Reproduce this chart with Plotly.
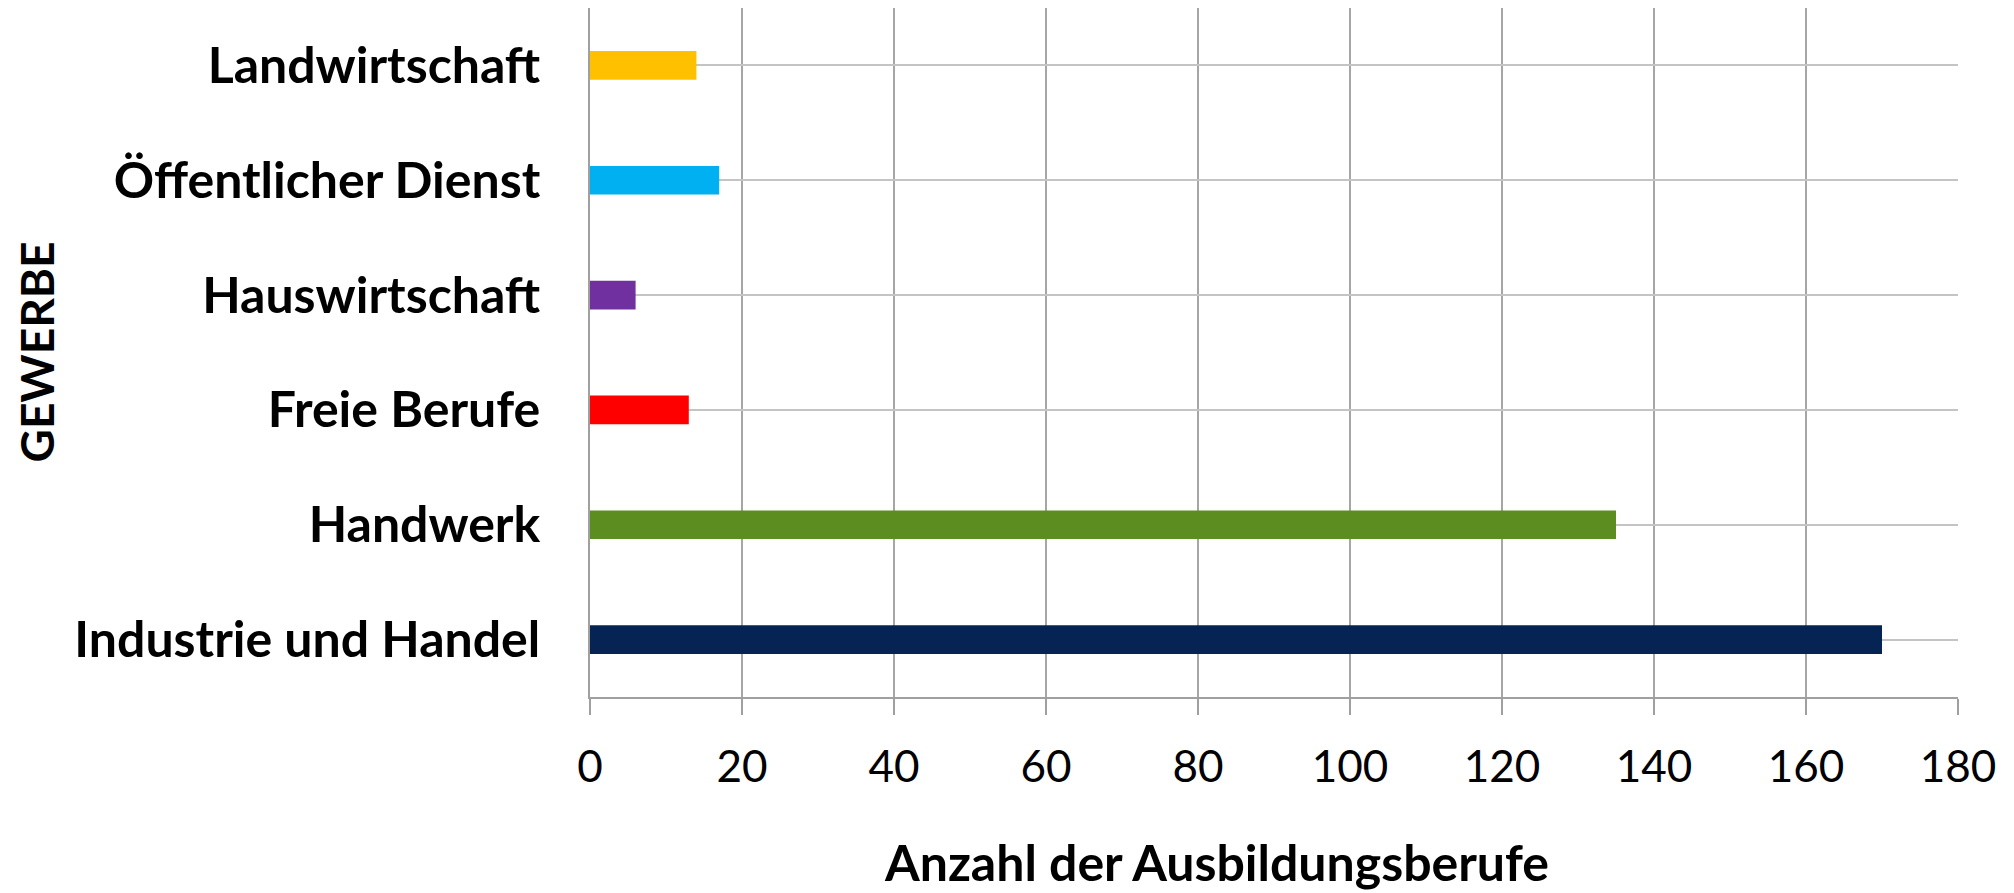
import plotly.graph_objects as go

categories = ["Industrie und Handel", "Handwerk", "Freie Berufe", "Hauswirtschaft",
              "Öffentlicher Dienst", "Landwirtschaft"]
values = [170, 135, 13, 6, 17, 14]
colors = ["#062453", "#5C8D21", "#FF0000", "#7030A0", "#00B0F0", "#FFC000"]
x_ticks = [0, 20, 40, 60, 80, 100, 120, 140, 160, 180]

FONT = "Lato"
W, H = 2006, 885
L, R, T, B = 582, 56, 0, 196
PW = W - L - R
PH = H - T - B

fig = go.Figure(go.Bar(
    y=categories, x=values, orientation="h",
    marker=dict(color=colors, line=dict(width=0)),
    width=0.25,
))

fig.update_layout(
    width=W, height=H,
    margin=dict(l=L, r=R, t=T, b=B, pad=0),
    paper_bgcolor="white", plot_bgcolor="white",
    showlegend=False,
    font=dict(family=FONT, color="black"),
    xaxis=dict(
        range=[0, 180], tickvals=x_ticks, ticktext=[str(v) for v in x_ticks],
        showgrid=True, gridcolor="#A6A6A6", gridwidth=1.5,
        showline=True, linecolor="#A0A0A0", linewidth=1.5,
        ticks="outside", ticklen=16, tickcolor="#A0A0A0", tickwidth=1.5,
        tickfont=dict(family=FONT, size=44, color="black"),
        ticklabelstandoff=14,
        zeroline=False, fixedrange=True,
    ),
    yaxis=dict(
        type="category", categoryorder="array", categoryarray=categories,
        range=[-0.5, 5.5],
        showgrid=True, gridcolor="#C4C4C4", gridwidth=1.5,
        showline=True, linecolor="#A0A0A0", linewidth=1.5,
        ticks="", ticklabelstandoff=38,
        tickfont=dict(family=FONT, size=50, color="black", weight="bold"),
        zeroline=False, fixedrange=True,
    ),
    annotations=[
        dict(text="<b>Anzahl der Ausbildungsberufe</b>", xref="paper", yref="paper",
             x=(1208 - L) / PW, y=-(854 - PH) / PH,
             xanchor="center", yanchor="middle", showarrow=False,
             font=dict(family=FONT, size=50, color="black")),
        dict(text="<b>GEWERBE</b>", xref="paper", yref="paper",
             x=-(L - 28) / PW, y=0.5,
             xanchor="center", yanchor="middle", textangle=-90, showarrow=False,
             font=dict(family=FONT, size=46, color="black")),
    ],
)

fig.write_html("out.html")
